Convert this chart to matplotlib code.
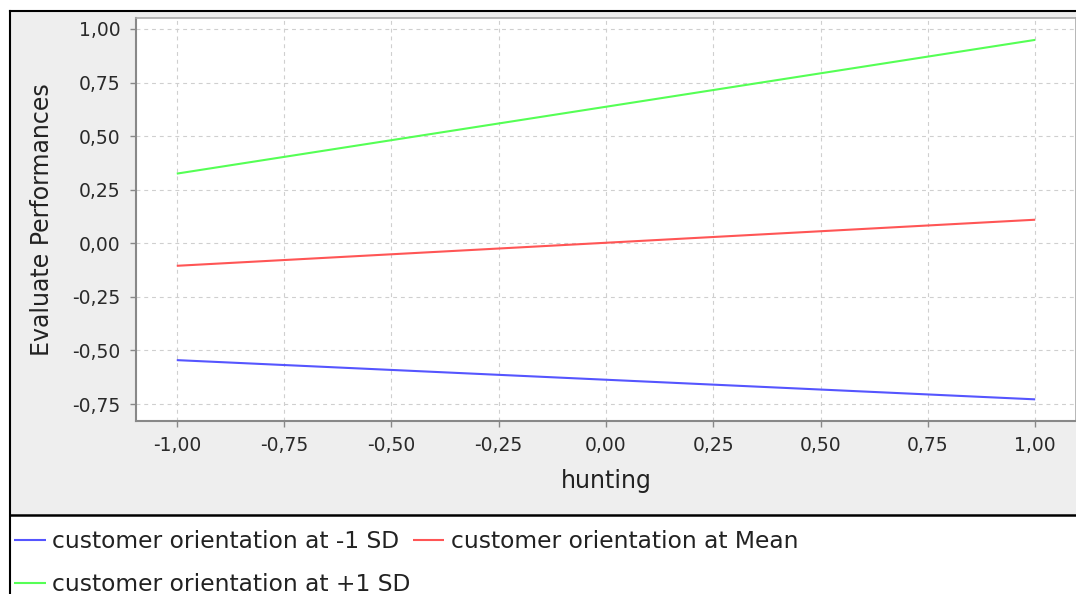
import matplotlib
matplotlib.use("Agg")
import matplotlib.pyplot as plt
from matplotlib.ticker import FixedLocator, FuncFormatter
from matplotlib.patches import Rectangle
from matplotlib.lines import Line2D

# ---- data ----
hunting = [-1.0, 1.0]
series_labels = ["customer orientation at -1 SD",
                 "customer orientation at Mean",
                 "customer orientation at +1 SD"]
low_sd = [-0.545, -0.728]
mean_vals = [-0.105, 0.110]
high_sd = [0.325, 0.949]
series_values = [low_sd, mean_vals, high_sd]
series_colors = ["#5555ff", "#ff5555", "#55ff55"]
x_ticks = [-1.0, -0.75, -0.5, -0.25, 0.0, 0.25, 0.5, 0.75, 1.0]
y_ticks = [-0.75, -0.5, -0.25, 0.0, 0.25, 0.5, 0.75, 1.0]
x_label = "hunting"
y_label = "Evaluate Performances"

W, H = 1076, 594
fig = plt.figure(figsize=(W / 100, H / 100), dpi=100)
fig.patch.set_facecolor("white")

def fx(px):
    return px / W

def fy(py):
    return 1 - py / H

# chart background (gray) and legend area (white)
fig.patches.append(Rectangle((fx(10), fy(515)), 1 - fx(10), fy(11) - fy(515),
                             transform=fig.transFigure, facecolor="#eeeeee",
                             edgecolor="none", zorder=-5))
fig.add_artist(Line2D([fx(10), 1], [fy(11), fy(11)], transform=fig.transFigure,
                      color="black", lw=1.5, zorder=5))
fig.add_artist(Line2D([fx(10), fx(10)], [0, fy(11)], transform=fig.transFigure,
                      color="black", lw=1.5, zorder=5))
fig.add_artist(Line2D([fx(10), 1], [fy(515), fy(515)], transform=fig.transFigure,
                      color="black", lw=1.8, zorder=5))

ax = fig.add_axes([fx(136), fy(421), 1 - fx(136), fy(18) - fy(421)])
ax.set_zorder(2)
ax.set_facecolor("white")

for vals, col, lab in zip(series_values, series_colors, series_labels):
    ax.plot(hunting, vals, color=col, lw=1.5, label=lab, solid_capstyle="butt")

ax.set_xlim(-1.095, 1.095)
ax.set_ylim(-0.829, 1.051)

fmt = FuncFormatter(lambda v, p: f"{v:.2f}".replace(".", ",").replace("−", "-"))
ax.xaxis.set_major_locator(FixedLocator(x_ticks))
ax.yaxis.set_major_locator(FixedLocator(y_ticks))
ax.xaxis.set_major_formatter(fmt)
ax.yaxis.set_major_formatter(fmt)

ax.grid(True, color="#cfcfcf", linestyle=(0, (3.5, 3.5)), lw=0.8)
ax.set_axisbelow(True)

for s in ["left", "bottom"]:
    ax.spines[s].set_color("#888888")
    ax.spines[s].set_linewidth(1.5)
for s in ["top", "right"]:
    ax.spines[s].set_color("#aaaaaa")
    ax.spines[s].set_linewidth(1.2)

ax.tick_params(axis="both", direction="out", length=4, width=1,
               color="#888888", labelsize=13.5, labelcolor="#2a2a2a")
ax.tick_params(axis="y", pad=7)
ax.tick_params(axis="x", pad=7)

ax.set_xlabel(x_label, fontsize=17, color="#222222", va="center")
ax.xaxis.set_label_coords(0.5, -0.149)
ax.set_ylabel(y_label, fontsize=17, color="#222222", va="center")
ax.yaxis.set_label_coords(-0.1, 0.5)

handles, labels = ax.get_legend_handles_labels()
order = [0, 2, 1]
leg = fig.legend([handles[i] for i in order], [labels[i] for i in order],
                 loc="upper left", bbox_to_anchor=(fx(14), fy(530)), ncol=2,
                 frameon=False, fontsize=16.8, handlelength=1.35,
                 handletextpad=0.3, columnspacing=0.08, labelspacing=0.85,
                 borderaxespad=0, borderpad=0, labelcolor="#222222")

fig.savefig("out.png", dpi=100)
